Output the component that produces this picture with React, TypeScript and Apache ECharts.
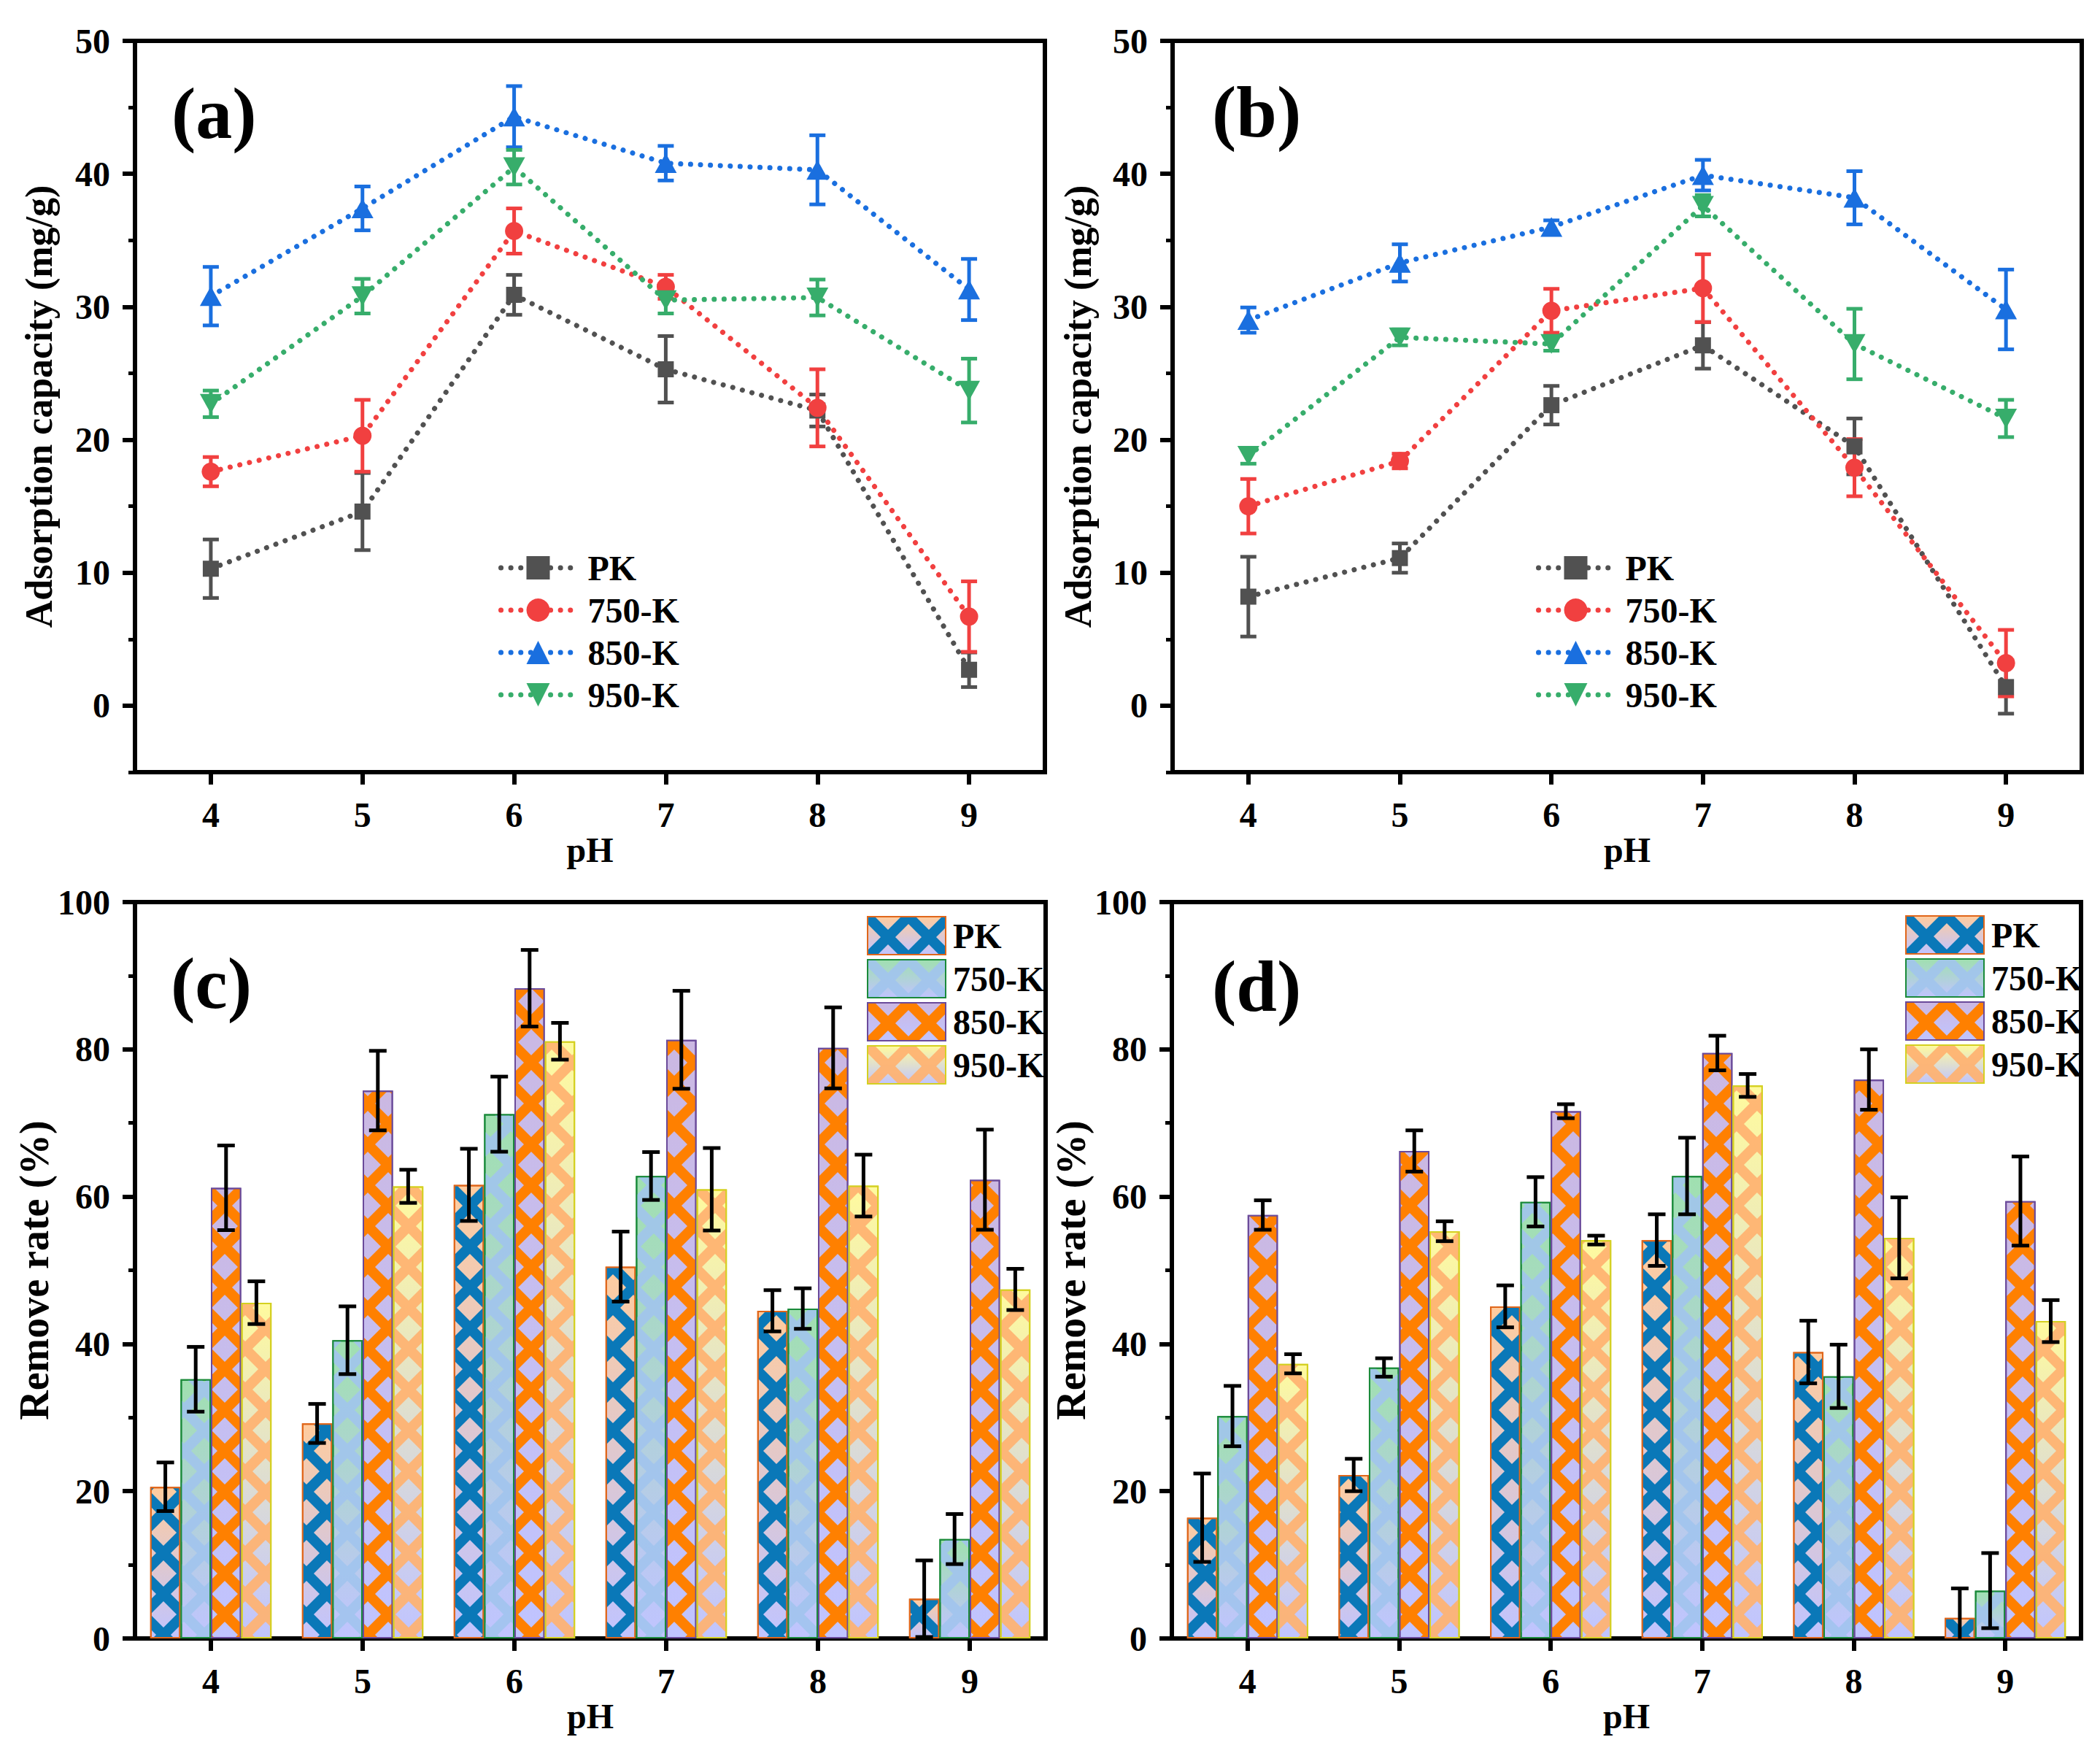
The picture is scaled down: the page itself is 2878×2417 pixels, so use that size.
import { useEffect, useRef } from "react";
import * as echarts from "echarts";

const PH = ["4", "5", "6", "7", "8", "9"];
const SAMPLES = ["PK", "750-K", "850-K", "950-K"];

// (a) adsorption capacity (mg/g)
const capA_PK = [10.3, 14.6, 30.9, 25.3, 22.2, 2.7];
const capA_PK_err = [2.2, 2.9, 1.5, 2.5, 1.2, 1.3];
const capA_750 = [17.6, 20.3, 35.7, 31.5, 22.4, 6.7];
const capA_750_err = [1.1, 2.7, 1.7, 0.9, 2.9, 2.65];
const capA_850 = [30.8, 37.4, 44.3, 40.8, 40.3, 31.3];
const capA_850_err = [2.2, 1.65, 2.3, 1.3, 2.6, 2.3];
const capA_950 = [22.7, 30.8, 40.5, 30.5, 30.7, 23.7];
const capA_950_err = [1.0, 1.3, 1.3, 1.0, 1.35, 2.4];

// (b) adsorption capacity (mg/g)
const capB_PK = [8.2, 11.1, 22.6, 27.1, 19.5, 1.4];
const capB_PK_err = [3.0, 1.1, 1.45, 1.75, 2.1, 2.0];
const capB_750 = [15.0, 18.4, 29.7, 31.4, 17.9, 3.2];
const capB_750_err = [2.05, 0.55, 1.65, 2.55, 2.15, 2.5];
const capB_850 = [29.0, 33.3, 36.0, 39.9, 38.2, 29.8];
const capB_850_err = [0.95, 1.4, 0.5, 1.15, 2.0, 3.0];
const capB_950 = [18.8, 27.7, 27.2, 37.6, 27.2, 21.6];
const capB_950_err = [0.6, 0.6, 0.5, 0.8, 2.65, 1.4];

// (c) remove rate (%)
const remC_PK = [20.6, 29.2, 61.6, 50.5, 44.5, 5.4];
const remC_PK_err = [3.3, 2.65, 4.9, 4.75, 2.8, 5.2];
const remC_750 = [35.2, 40.5, 71.2, 62.8, 44.8, 13.5];
const remC_750_err = [4.4, 4.6, 5.1, 3.25, 2.75, 3.4];
const remC_850 = [61.2, 74.4, 88.3, 81.3, 80.2, 62.3];
const remC_850_err = [5.75, 5.4, 5.2, 6.65, 5.5, 6.8];
const remC_950 = [45.6, 61.4, 81.1, 61.0, 61.5, 47.4];
const remC_950_err = [2.9, 2.25, 2.5, 5.6, 4.2, 2.8];

// (d) remove rate (%)
const remD_PK = [16.4, 22.2, 45.1, 54.1, 38.9, 2.8];
const remD_PK_err = [6.0, 2.2, 2.85, 3.5, 4.25, 4.0];
const remD_750 = [30.2, 36.8, 59.3, 62.8, 35.6, 6.5];
const remD_750_err = [4.1, 1.25, 3.35, 5.2, 4.3, 5.1];
const remD_850 = [57.5, 66.2, 71.6, 79.5, 75.9, 59.4];
const remD_850_err = [2.0, 2.8, 0.95, 2.35, 4.1, 6.05];
const remD_950 = [37.3, 55.3, 54.1, 75.1, 54.4, 43.1];
const remD_950_err = [1.3, 1.35, 0.6, 1.55, 5.5, 2.85];

const CAP_TICKS = [0, 10, 20, 30, 40, 50];
const CAP_MINOR_TICKS = [-5, 5, 15, 25, 35, 45];

const FONT = "'Liberation Serif', 'Times New Roman', serif";
const LINE_COLORS = ["#515151", "#F14040", "#1A6FDF", "#37AD6B"];
const SYMBOLS = ["rect", "circle", "triangle", "path://M0,0L2,0L1,1.732Z"];
const SYMBOL_SIZES: any[] = [22, 25, [30, 27], [30, 27]];
const DOTS = [0.1, 13.5];

const BAR_TOP = ["#ffcc9e", "#a0e0b0", "#cbb8e2", "#fffa9e"];
const BAR_BOTTOM = "#c0c4ff";
const BAR_BORDER = ["#e0661a", "#1a8a3a", "#6a4a9a", "#d4d020"];
const HATCH = ["#0a78b8", "rgba(160,195,238,0.88)", "#ff8000", "rgba(255,178,112,0.92)"];
const HATCH_PATH = "path://M0,0L5,0L28,23L28,28L23,28L0,5ZM28,0L28,5L5,28L0,28L0,23L23,0Z";

const txt = (size: number) => ({ fontFamily: FONT, fontWeight: "bold" as const, fontSize: size, color: "#000" });
const black = (width: number) => ({ color: "#000", width });

function xAxisFor(gridIndex: number) {
  return {
    type: "category",
    gridIndex,
    data: PH,
    boundaryGap: true,
    name: "pH",
    nameLocation: "middle",
    nameGap: 82,
    nameTextStyle: txt(48),
    axisLine: { show: true, onZero: false, lineStyle: black(6) },
    axisTick: { show: true, alignWithLabel: true, interval: 0, length: 17, lineStyle: black(6) },
    axisLabel: { ...txt(48), interval: 0, margin: 34 },
    splitLine: { show: false },
  };
}

function capAxes(gridIndex: number, nameGap: number) {
  return [
    {
      type: "value",
      gridIndex,
      min: -5,
      max: 50,
      name: "Adsorption capacity (mg/g)",
      nameLocation: "middle",
      nameGap,
      nameTextStyle: txt(52),
      axisLine: { show: true, onZero: false, lineStyle: black(6) },
      axisTick: { show: true, length: 17, customValues: CAP_TICKS, lineStyle: black(6) },
      axisLabel: {
        ...txt(48),
        margin: 34,
        customValues: CAP_TICKS,
        formatter: (v: number) => (v % 10 === 0 ? String(v) : ""),
      },
      splitLine: { show: false },
    },
    {
      type: "value",
      gridIndex,
      min: -5,
      max: 50,
      position: "left",
      axisLine: { show: false, onZero: false },
      axisLabel: { show: false },
      splitLine: { show: false },
      axisTick: { show: true, length: 9, customValues: CAP_MINOR_TICKS, lineStyle: black(5) },
    },
  ];
}

function remAxis(gridIndex: number, nameGap: number) {
  return {
    type: "value",
    gridIndex,
    min: 0,
    max: 100,
    interval: 20,
    name: "Remove rate (%)",
    nameLocation: "middle",
    nameGap,
    nameTextStyle: txt(56),
    axisLine: { show: true, onZero: false, lineStyle: black(6) },
    axisTick: { show: true, length: 17, lineStyle: black(6) },
    minorTick: { show: true, splitNumber: 2, length: 9, lineStyle: black(5) },
    axisLabel: { ...txt(48), margin: 34 },
    splitLine: { show: false },
    minorSplitLine: { show: false },
  };
}

function errorSeries(xi: number, yi: number, vals: number[], errs: number[], color: string, capHalf: number, slot: number | null, z: number) {
  return {
    type: "custom",
    xAxisIndex: xi,
    yAxisIndex: yi,
    silent: true,
    clip: true,
    z,
    data: vals.map((v, i) => [i, v, errs[i]]),
    encode: { x: 0, y: 1 },
    renderItem: (_params: any, api: any) => {
      const i = api.value(0);
      const v = api.value(1);
      const e = api.value(2);
      const hi = api.coord([i, v + e]);
      const lo = api.coord([i, v - e]);
      let dx = 0;
      if (slot !== null) {
        const band = api.size([1, 0])[0];
        dx = band * (-0.4 + 0.2 * (slot + 0.5));
      }
      const x = hi[0] + dx;
      const style = { stroke: color, lineWidth: 5 };
      return {
        type: "group",
        children: [
          { type: "line", shape: { x1: x, y1: hi[1], x2: x, y2: lo[1] }, style },
          { type: "line", shape: { x1: x - capHalf, y1: hi[1], x2: x + capHalf, y2: hi[1] }, style },
          { type: "line", shape: { x1: x - capHalf, y1: lo[1], x2: x + capHalf, y2: lo[1] }, style },
        ],
      };
    },
  };
}

function lineSeries(panel: string, p: number, values: number[][], errs: number[][]) {
  const out: any[] = [];
  values.forEach((vals, k) => {
    out.push(errorSeries(p, 2 * p, vals, errs[k], LINE_COLORS[k], 11, null, 2));
  });
  values.forEach((vals, k) => {
    out.push({
      type: "line",
      name: `${panel}:${SAMPLES[k]}`,
      xAxisIndex: p,
      yAxisIndex: 2 * p,
      data: vals,
      symbol: SYMBOLS[k],
      symbolSize: SYMBOL_SIZES[k],
      itemStyle: { color: LINE_COLORS[k] },
      lineStyle: { color: LINE_COLORS[k], width: 7, type: DOTS, cap: "round" },
      z: 3,
    });
  });
  return out;
}

function barSeries(panel: string, xi: number, yi: number, values: number[][], errs: number[][]) {
  const out: any[] = [];
  values.forEach((vals, k) => {
    out.push({
      type: "bar",
      name: `${panel}:${SAMPLES[k]}`,
      xAxisIndex: xi,
      yAxisIndex: yi,
      data: vals,
      barGap: "0%",
      barCategoryGap: "20%",
      itemStyle: {
        color: {
          type: "linear",
          x: 0,
          y: 0,
          x2: 0,
          y2: 1,
          colorStops: [
            { offset: 0, color: BAR_TOP[k] },
            { offset: 1, color: BAR_BOTTOM },
          ],
        },
        borderColor: BAR_BORDER[k],
        borderWidth: 2,
        decal: {
          symbol: HATCH_PATH,
          symbolSize: 1,
          symbolKeepAspect: false,
          color: HATCH[k],
          dashArrayX: [56, 0],
          dashArrayY: [56, 0],
          rotation: 0,
        },
      },
      z: 2,
    });
  });
  values.forEach((vals, k) => {
    out.push(errorSeries(xi, yi, vals, errs[k], "#000", 12, k, 4));
  });
  return out;
}

function lineLegend(panel: string, left: number, top: number) {
  return {
    data: SAMPLES.map((s) => `${panel}:${s}`),
    formatter: (n: string) => n.split(":")[1],
    orient: "vertical",
    left,
    top,
    itemWidth: 102,
    itemHeight: 40,
    itemGap: 10,
    selectedMode: false,
    lineStyle: { width: 7, type: DOTS, cap: "round" },
    textStyle: { ...txt(48), lineHeight: 48, padding: [0, 0, 0, 12] },
  };
}

function barLegend(panel: string, left: number, top: number) {
  return {
    data: SAMPLES.map((s) => `${panel}:${s}`),
    formatter: (n: string) => n.split(":")[1],
    orient: "vertical",
    left,
    top,
    icon: "rect",
    itemWidth: 107,
    itemHeight: 52,
    itemGap: 5,
    selectedMode: false,
    textStyle: { ...txt(48), lineHeight: 48, padding: [0, 0, 0, 5] },
  };
}

function panelLabel(text: string, x: number, y: number) {
  return {
    type: "text",
    x,
    y,
    style: { text, font: `bold 100px ${FONT}`, fill: "#000", verticalAlign: "middle" },
  };
}

export default function App() {
  const ref = useRef<HTMLDivElement>(null);

  useEffect(() => {
    if (!ref.current) return;
    const chart = echarts.init(ref.current, undefined, { renderer: "svg" });

    const gridStyle = { show: true, borderColor: "#000", borderWidth: 6, backgroundColor: "transparent" };

    const option: any = {
      animation: false,
      backgroundColor: "#fff",
      grid: [
        { left: 185, top: 56, width: 1247, height: 1002, ...gridStyle },
        { left: 1607, top: 56, width: 1246, height: 1002, ...gridStyle },
        { left: 185, top: 1236, width: 1248, height: 1009, ...gridStyle },
        { left: 1606, top: 1236, width: 1246, height: 1009, ...gridStyle },
      ],
      xAxis: [xAxisFor(0), xAxisFor(1), xAxisFor(2), xAxisFor(3)],
      yAxis: [...capAxes(0, 106), ...capAxes(1, 104), remAxis(2, 100), remAxis(3, 102)],
      legend: [
        lineLegend("a", 678, 749),
        lineLegend("b", 2100, 749),
        barLegend("c", 1183, 1250),
        barLegend("d", 2606, 1249),
      ],
      graphic: [
        panelLabel("(a)", 235, 155),
        panelLabel("(b)", 1661, 153),
        panelLabel("(c)", 234, 1347),
        panelLabel("(d)", 1661, 1351),
      ],
      series: [
        ...lineSeries("a", 0, [capA_PK, capA_750, capA_850, capA_950], [capA_PK_err, capA_750_err, capA_850_err, capA_950_err]),
        ...lineSeries("b", 1, [capB_PK, capB_750, capB_850, capB_950], [capB_PK_err, capB_750_err, capB_850_err, capB_950_err]),
        ...barSeries("c", 2, 4, [remC_PK, remC_750, remC_850, remC_950], [remC_PK_err, remC_750_err, remC_850_err, remC_950_err]),
        ...barSeries("d", 3, 5, [remD_PK, remD_750, remD_850, remD_950], [remD_PK_err, remD_750_err, remD_850_err, remD_950_err]),
      ],
    };

    chart.setOption(option);
    return () => chart.dispose();
  }, []);

  return (
    <div
      ref={ref}
      style={{ position: "fixed", left: 0, top: 0, width: 2878, height: 2417, background: "#fff" }}
    />
  );
}
